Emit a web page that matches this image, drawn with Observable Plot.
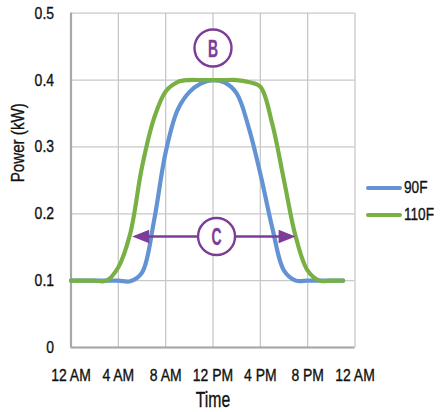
<!DOCTYPE html>
<html>
<head>
<meta charset="utf-8">
<script src="https://cdn.jsdelivr.net/npm/d3@7"></script>
<script src="https://cdn.jsdelivr.net/npm/@observablehq/plot@0.6"></script>
<style>
  html, body { margin: 0; padding: 0; background: #fff; }
  #wrap { position: relative; width: 440px; height: 412px; }
  #wrap svg { display: block; }
  .legend { position: absolute; left: 366px; top: 174px; font-family: "Liberation Sans", Arial, sans-serif; font-size: 17px; color: #111; -webkit-text-stroke: 0.35px #111; }
  .legend .item { display: flex; align-items: center; height: 27px; }
  .legend .sw { width: 36px; height: 4px; border-radius: 2px; margin-right: 2px; }
  .legend span { display: inline-block; transform: scaleX(0.8); transform-origin: left center; }
</style>
</head>
<body>
<div id="wrap"></div>
<script>
const hours = [0,1,2,3,4,5,6,7,8,9,10,11,12,13,14,15,16,17,18,19,20,21,22,23];
const power90 = [0.1,0.1,0.1,0.1,0.1,0.099,0.112,0.188,0.292,0.355,0.382,0.395,0.4,0.396,0.38,0.33,0.26,0.18,0.115,0.1,0.1,0.1,0.1,0.1];
const power110 = [0.1,0.1,0.1,0.1,0.12,0.17,0.27,0.342,0.383,0.397,0.4,0.4,0.4,0.4,0.4,0.397,0.39,0.335,0.25,0.165,0.115,0.1,0.1,0.1];
const seriesNames = ["90F", "110F"];
const seriesColors = ["#6393d3", "#78b043"];
const xTicks = [0,4,8,12,16,20,24];
const xTickLabels = ["12 AM","4 AM","8 AM","12 PM","4 PM","8 PM","12 AM"];
const yTicks = [0,0.1,0.2,0.3,0.4,0.5];
const yTickLabels = ["0","0.1","0.2","0.3","0.4","0.5"];
// annotations (hour, power)
const labelB = {hour: 12, power: 0.448, text: "B"};
const labelC = {hour: 12.3, power: 0.166, text: "C"};
const arrowSpan = {y: 0.166, from: 5.17, to: 18.98};

const purple = "#7d3c98";
const font = '"Liberation Sans", Arial, sans-serif';

const data = [];
hours.forEach((h, i) => {
  data.push({hour: h, power: power90[i], series: seriesNames[0]});
  data.push({hour: h, power: power110[i], series: seriesNames[1]});
});

// arrowhead symbol, tip at origin pointing +x
const arrowHead = {
  draw(ctx, size) {
    const L = 17, W = 6.7;
    ctx.moveTo(0, 0);
    ctx.lineTo(-L, -W);
    ctx.lineTo(-L, W);
    ctx.closePath();
  }
};

const chart = Plot.plot({
  width: 440,
  height: 412,
  marginLeft: 70.5,
  marginRight: 85.5,
  marginTop: 12.7,
  marginBottom: 65,
  style: {fontFamily: font, fontSize: "17px", color: "#111", background: "#fff"},
  x: {domain: [0, 24], ticks: xTicks},
  y: {domain: [0, 0.5], ticks: yTicks},
  color: {domain: seriesNames, range: seriesColors},
  marks: [
    Plot.gridX(xTicks, {stroke: "#c8c8c8", strokeOpacity: 1, strokeWidth: 1.3}),
    Plot.gridY(yTicks, {stroke: "#c8c8c8", strokeOpacity: 1, strokeWidth: 1.3}),
    Plot.ruleX([0], {stroke: "#a8a8a8", strokeWidth: 2.2}),
    Plot.ruleY([0], {stroke: "#a8a8a8", strokeWidth: 2.2}),
    Plot.axisX(xTicks, {tickSize: 0, tickPadding: 21, tickFormat: d => xTickLabels[xTicks.indexOf(d)], label: null, fontSize: 17, className: "cond"}),
    Plot.axisY(yTicks, {tickSize: 0, tickPadding: 17, tickFormat: d => yTickLabels[yTicks.indexOf(d)], label: null, fontSize: 17, className: "cond"}),
    Plot.text(["Time"], {frameAnchor: "bottom", dy: 59, lineAnchor: "bottom", fontSize: 22.5, fill: "#111", className: "condT"}),
    Plot.text(["Power (kW)"], {frameAnchor: "left", dx: -53, dy: 2, rotate: -90, fontSize: 18.5, fill: "#111", className: "cond"}),
    Plot.line(data, {x: "hour", y: "power", stroke: "series", z: "series", curve: "catmull-rom", strokeWidth: 4.2}),
    Plot.ruleY([arrowSpan], {y: "y", x1: d => d.from + 0.5, x2: d => d.to - 0.5, stroke: purple, strokeWidth: 2.4}),
    Plot.dot([arrowSpan], {x: "from", y: "y", symbol: arrowHead, fill: purple, stroke: "none", rotate: 180, r: 5}),
    Plot.dot([arrowSpan], {x: "to", y: "y", symbol: arrowHead, fill: purple, stroke: "none", r: 5}),
    Plot.dot([labelB, labelC], {x: "hour", y: "power", r: 18.5, fill: "#fff", stroke: purple, strokeWidth: 2.4}),
    Plot.text([labelB, labelC], {x: "hour", y: "power", text: "text", fill: purple, fontSize: 24, fontWeight: "bold", dy: 1, className: "xcond"})
  ]
});

const wrap = document.getElementById("wrap");
wrap.appendChild(chart);

// emulate a condensed typeface by compressing glyph widths
function condense(sel, factor, color, sw) {
  chart.querySelectorAll(sel).forEach(t => {
    const len = t.getComputedTextLength();
    if (len > 0) {
      t.setAttribute("textLength", (len * factor).toFixed(2));
      t.setAttribute("lengthAdjust", "spacingAndGlyphs");
    }
    t.style.stroke = color;
    t.style.strokeWidth = sw + "px";
  });
}
condense(".cond text", 0.82, "#111", 0.35);
condense(".condT text", 0.7, "#111", 0.35);
condense(".xcond text", 0.58, purple, 0.3);

const legend = document.createElement("div");
legend.className = "legend";
seriesNames.forEach((name, i) => {
  const item = document.createElement("div");
  item.className = "item";
  const sw = document.createElement("div");
  sw.className = "sw";
  sw.style.background = seriesColors[i];
  const lab = document.createElement("span");
  lab.textContent = name;
  item.appendChild(sw);
  item.appendChild(lab);
  legend.appendChild(item);
});
wrap.appendChild(legend);
</script>
</body>
</html>
